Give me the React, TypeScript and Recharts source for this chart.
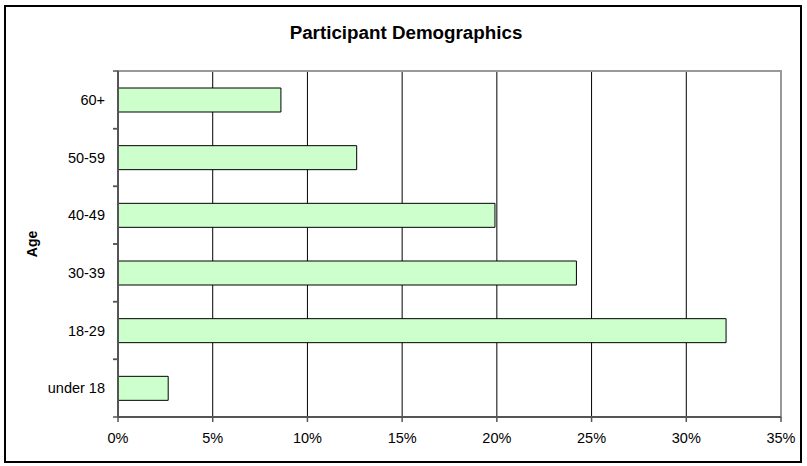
import React from 'react';
import { BarChart, Bar, XAxis, YAxis, CartesianGrid, ReferenceArea } from 'recharts';

const ageGroups = ['under 18', '18-29', '30-39', '40-49', '50-59', '60+'];
const percentages = [2.65, 32.1, 24.2, 19.9, 12.6, 8.6];
const xTicks = [0, 5, 10, 15, 20, 25, 30, 35];

const data = ageGroups.map((age, i) => ({ age, value: percentages[i] }));

const W = 807;
const H = 466;
const margin = { top: 71, right: 26, bottom: 0, left: 0 };
const xAxisHeight = 49;
const yAxisWidth = 118;
const band = (H - margin.top - margin.bottom - xAxisHeight) / ageGroups.length;
const font = '"Liberation Sans", Arial, sans-serif';

const AgeTick = (props: any) => {
  const { x, y, payload } = props;
  return (
    <g>
      <line x1={x - 5} x2={x} y1={y - band / 2} y2={y - band / 2} stroke="#555" strokeWidth={1.5} />
      <line x1={x - 5} x2={x} y1={y + band / 2} y2={y + band / 2} stroke="#555" strokeWidth={1.5} />
      <text x={x - 13} y={y} dy="0.35em" textAnchor="end" fontSize={14.5} fill="#000" fontFamily={font}>
        {payload.value}
      </text>
    </g>
  );
};

const AgeLabel = (props: any) => {
  const { viewBox } = props;
  const cy = viewBox.y + viewBox.height / 2;
  return (
    <text x={37} y={cy} transform={`rotate(-90 37 ${cy})`} textAnchor="middle" fontSize={14} fontWeight="bold" fill="#000" fontFamily={font}>
      Age
    </text>
  );
};

export default function App() {
  return (
    <div style={{ position: 'fixed', left: 0, top: 0, width: W, height: H, background: '#fff', fontFamily: font }}>
      <div
        style={{
          position: 'absolute',
          left: 4,
          top: 5,
          width: 798,
          height: 458,
          border: '2px solid #000',
          boxSizing: 'border-box',
        }}
      />
      <div
        style={{
          position: 'absolute',
          left: 0,
          width: 812,
          top: 22,
          textAlign: 'center',
          fontSize: 18.8,
          fontWeight: 'bold',
          color: '#000',
        }}
      >
        Participant Demographics
      </div>
      <div style={{ position: 'absolute', left: 0, top: 0 }}>
        <BarChart width={W} height={H} data={data} layout="vertical" margin={margin}>
          <CartesianGrid horizontal={false} vertical stroke="#000" strokeWidth={1} />
          <XAxis
            type="number"
            domain={[0, 35]}
            ticks={xTicks}
            interval={0}
            tickFormatter={(v: number) => `${v}%`}
            axisLine={{ stroke: '#555', strokeWidth: 2 }}
            tickLine={{ stroke: '#555', strokeWidth: 1.5 }}
            tickSize={5}
            tickMargin={11}
            height={xAxisHeight}
            tick={{ fontSize: 14.5, fill: '#000', fontFamily: font }}
          />
          <YAxis
            type="category"
            dataKey="age"
            reversed
            width={yAxisWidth}
            axisLine={{ stroke: '#555', strokeWidth: 2 }}
            tickLine={false}
            tickSize={0}
            tickMargin={0}
            tick={<AgeTick />}
            interval={0}
            label={<AgeLabel />}
          />
          <ReferenceArea x1={0} x2={35} fill="none" stroke="#999" strokeWidth={2} ifOverflow="visible" />
          <Bar dataKey="value" fill="#CCFFCC" stroke="#000" strokeWidth={1} barSize={24} isAnimationActive={false} />
        </BarChart>
      </div>
    </div>
  );
}
